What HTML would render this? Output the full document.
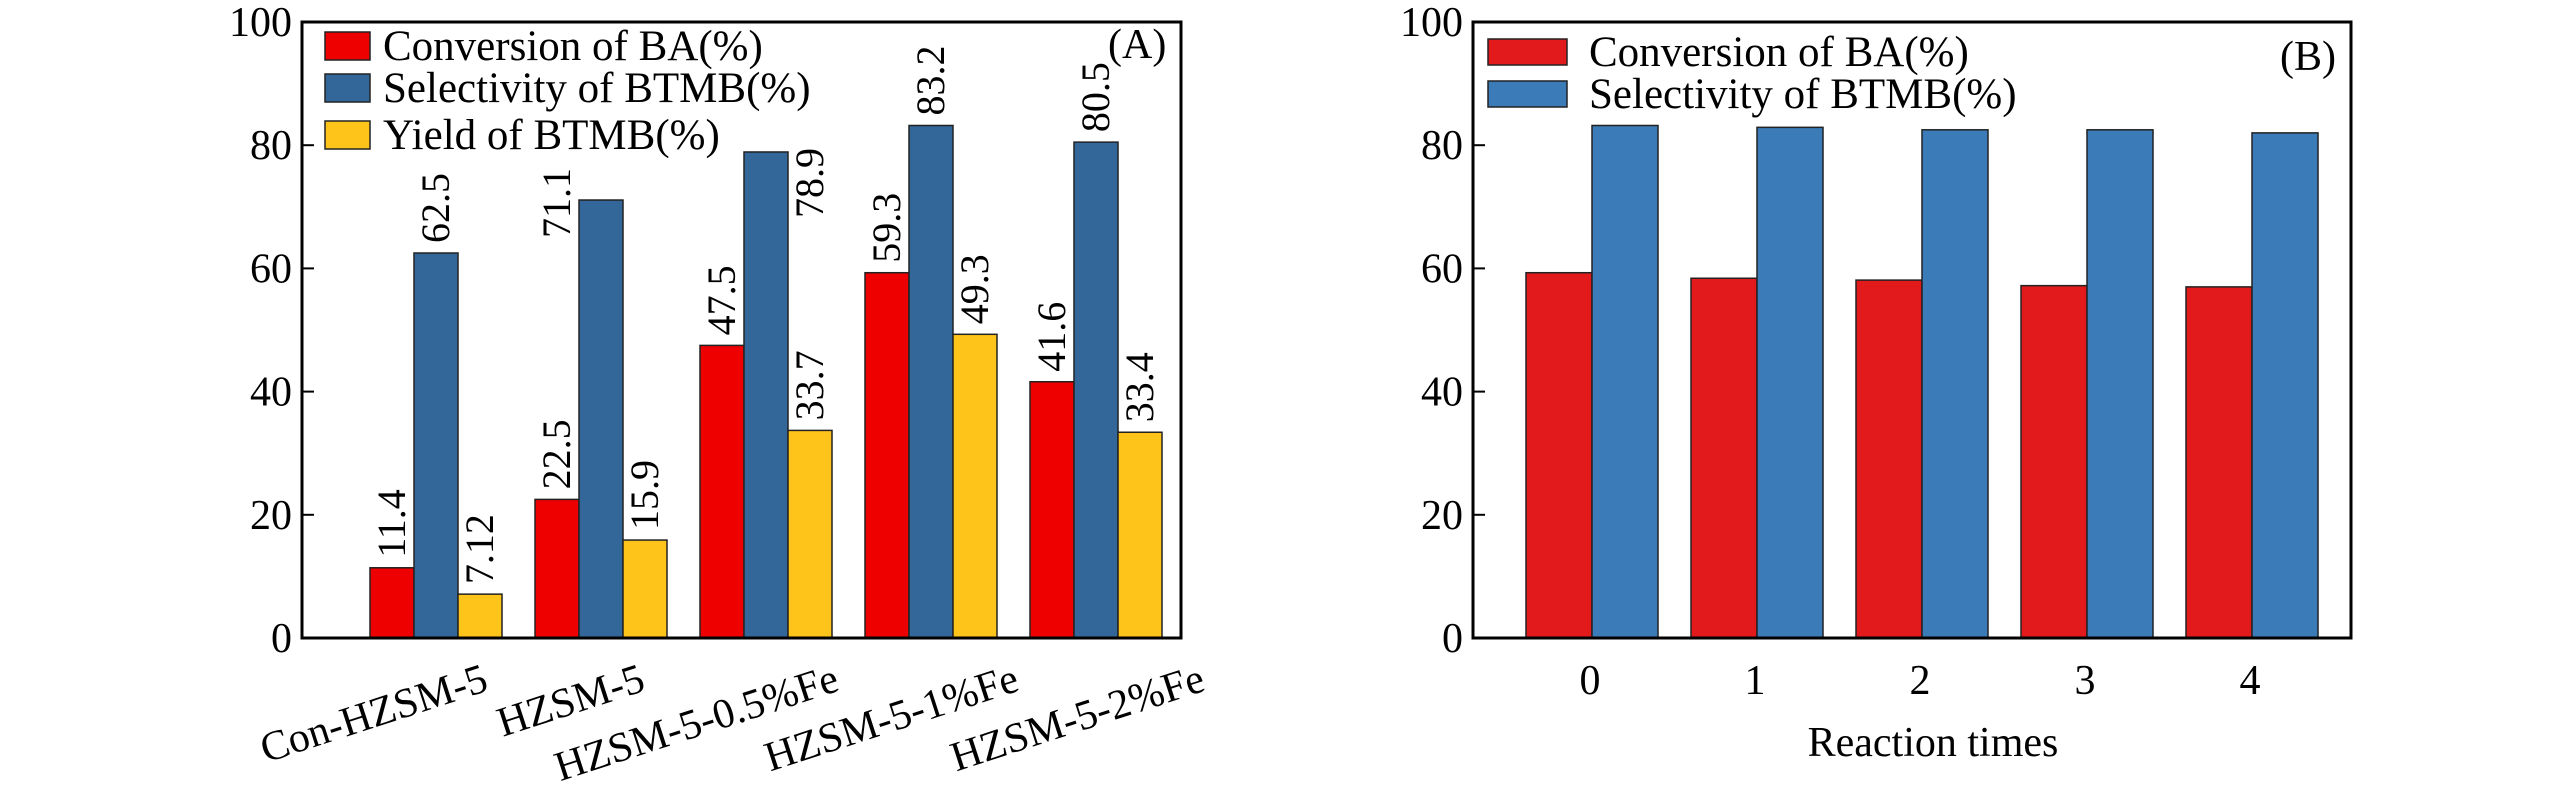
<!DOCTYPE html>
<html><head><meta charset="utf-8"><style>
body{margin:0;background:#fff}
svg{display:block}
svg text{font-family:"Liberation Serif","Times New Roman",serif}
</style></head><body>
<svg id="c" width="2567" height="787" viewBox="0 0 2567 787" font-family="Liberation Serif, serif"></svg>
<script>
const catsA=["Con-HZSM-5","HZSM-5","HZSM-5-0.5%Fe","HZSM-5-1%Fe","HZSM-5-2%Fe"];
const convA=[11.4,22.5,47.5,59.3,41.6];
const selA=[62.5,71.1,78.9,83.2,80.5];
const yieldA=[7.12,15.9,33.7,49.3,33.4];
const labelsConvA=["11.4","22.5","47.5","59.3","41.6"];
const labelsSelA=["62.5","71.1","78.9","83.2","80.5"];
const labelsYieldA=["7.12","15.9","33.7","49.3","33.4"];
const catsB=["0","1","2","3","4"];
const convB=[59.3,58.4,58.1,57.2,57.0];
const selB=[83.2,82.9,82.5,82.5,82.0];
const yTicks=[0,20,40,60,80,100];

const svg=document.getElementById('c');
const NS="http://www.w3.org/2000/svg";
function mk(t,a,txt){const e=document.createElementNS(NS,t);for(const k in a)e.setAttribute(k,a[k]);if(t==='text')e.setAttribute('font-family','Liberation Serif, serif');if(txt!==undefined)e.textContent=txt;svg.appendChild(e);return e;}
const plotTop=22,plotBot=638;
function yS(v){return plotBot-(plotBot-plotTop)*v/100;}

function axes(L,name){
  for(const t of yTicks){
    const l=mk('line',{x1:L,x2:L+12,y1:yS(t),y2:yS(t),stroke:'#000','stroke-width':2});
    
    
    const tx=mk('text',{x:L-10,y:yS(t)+14,'text-anchor':'end','font-size':42},String(t));
    
    
  }
}
function bar(x,w,v,fill,name){
  const r=mk('rect',{x:x,y:yS(v),width:w,height:plotBot-yS(v),fill:fill,stroke:'#222','stroke-width':1.5});
  
  
}
function vlabel(x,v,txt,dy){
  const t=mk('text',{transform:`translate(${x+13},${yS(v)-10+(dy||0)}) rotate(-90)`,'font-size':40},txt);
  
  
}
// Panel A
const LA=302,RA=1181,bwA=44,gsA=165,c0A=436;
const xLabDx=[54,46,75,90,111];
const selLabDx=[0,-44,44,0,0];
const selLabDy=[0,48,76,0,0];
axes(LA,'panel-a');
catsA.forEach((c,i)=>{
  const cx=c0A+gsA*i;
  bar(cx-1.5*bwA,bwA,convA[i],'#ee0000','bar-conversion-a');
  bar(cx-0.5*bwA,bwA,selA[i],'#336699','bar-selectivity-a');
  bar(cx+0.5*bwA,bwA,yieldA[i],'#ffc41a','bar-yield-a');
  vlabel(cx-bwA,convA[i],labelsConvA[i]);
  vlabel(cx+selLabDx[i],selA[i],labelsSelA[i],selLabDy[i]);
  vlabel(cx+bwA,yieldA[i],labelsYieldA[i]);
  const t=mk('text',{transform:`translate(${cx+xLabDx[i]},690) rotate(-18)`,'text-anchor':'end','font-size':42},c);
  
  
});
let f=mk('rect',{x:LA,y:plotTop,width:RA-LA,height:plotBot-plotTop,fill:'none',stroke:'#000','stroke-width':3});


[['#ee0000','Conversion of BA(%)',46],['#336699','Selectivity of BTMB(%)',88],['#ffc41a','Yield of BTMB(%)',135]].forEach(d=>{
  const s=mk('rect',{x:325,y:d[2]-14,width:45,height:28,fill:d[0],stroke:'#222','stroke-width':1.5});
  
  
  const t=mk('text',{x:383,y:d[2]+14,'font-size':43},d[1]);
  
  
});
f=mk('text',{x:1108,y:58,'font-size':42},'(A)');



// Panel B
const LB=1473,RB=2351,bwB=66,gsB=165,c0B=1592;
axes(LB,'panel-b');
catsB.forEach((c,i)=>{
  const cx=c0B+gsB*i;
  bar(cx-bwB,bwB,convB[i],'#e31a1c','bar-conversion-b');
  bar(cx,bwB,selB[i],'#3a7bb8','bar-selectivity-b');
  const t=mk('text',{x:cx-2,y:694,'text-anchor':'middle','font-size':42},c);
  
  
});
f=mk('rect',{x:LB,y:plotTop,width:RB-LB,height:plotBot-plotTop,fill:'none',stroke:'#000','stroke-width':3});


[['#e31a1c','Conversion of BA(%)',52],['#3a7bb8','Selectivity of BTMB(%)',94]].forEach(d=>{
  const s=mk('rect',{x:1488,y:d[2]-13,width:79,height:26,fill:d[0],stroke:'#222','stroke-width':1.5});
  
  
  const t=mk('text',{x:1589,y:d[2]+14,'font-size':43},d[1]);
  
  
});
f=mk('text',{x:2280,y:70,'font-size':42},'(B)');


f=mk('text',{x:1933,y:756,'text-anchor':'middle','font-size':42},'Reaction times');


</script>
</body></html>
